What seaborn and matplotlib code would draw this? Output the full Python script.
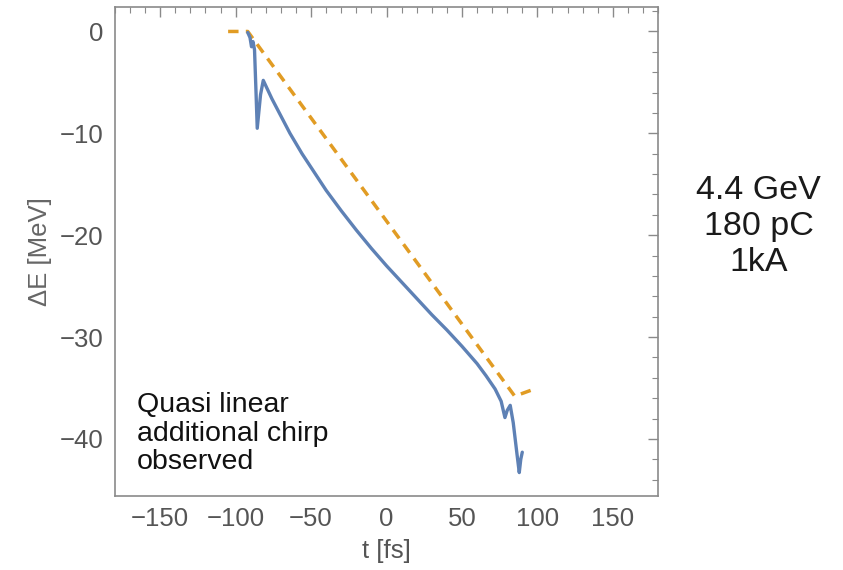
import matplotlib
matplotlib.use("Agg")
import matplotlib.pyplot as plt
import seaborn as sns
import pandas as pd
from matplotlib.ticker import MultipleLocator

# Measured energy deviation along the bunch
t_meas = [-92, -90.5, -89.5, -88.5, -87.5, -86.5, -85.7, -83.5, -81.7, -76, -70, -64,
          -56, -48, -40, -30, -20, -10, 0, 10, 20, 30, 40, 50, 60, 66, 72, 76,
          78.5, 80, 82, 84, 86.5, 88, 89, 90]
dE_meas = [-0.1, -0.6, -1.5, -1.0, -1.8, -6.0, -9.5, -6.2, -4.8, -6.6, -8.3, -10.0,
           -12.0, -13.8, -15.6, -17.6, -19.5, -21.3, -23.0, -24.6, -26.2, -27.8, -29.3,
           -30.9, -32.6, -33.8, -35.1, -36.3, -37.9, -37.2, -36.7, -38.4, -41.5, -43.3,
           -42.0, -41.3]

# Linear chirp reference
t_lin = [-105, -92, 85, 98]
dE_lin = [0.0, 0.0, -35.8, -35.1]

x_ticks = [-150, -100, -50, 0, 50, 100, 150]
y_ticks = [0, -10, -20, -30, -40]

sns.set_theme(style="white")
plt.rcParams["font.family"] = ["Liberation Sans", "DejaVu Sans"]
plt.rcParams["axes.unicode_minus"] = True

fig = plt.figure(figsize=(8.43, 5.70), dpi=100)
ax = fig.add_axes([0.1364, 0.1298, 0.6442, 0.8579])

df_meas = pd.DataFrame({"t": t_meas, "dE": dE_meas})
df_lin = pd.DataFrame({"t": t_lin, "dE": dE_lin})

sns.lineplot(data=df_lin, x="t", y="dE", ax=ax, color="#E19C24", lw=2.5,
             estimator=None, sort=False)
ax.lines[-1].set_dashes((3.0, 2.1))
sns.lineplot(data=df_meas, x="t", y="dE", ax=ax, color="#5E81B5", lw=2.4,
             estimator=None, sort=False)

ax.set_xlim(-180, 180)
ax.set_ylim(-45.6, 2.4)
ax.set_xticks(x_ticks)
ax.set_yticks(y_ticks)
ax.xaxis.set_minor_locator(MultipleLocator(10))
ax.yaxis.set_minor_locator(MultipleLocator(2))

frame_col = "#8a8a8a"
for s in ax.spines.values():
    s.set_color(frame_col)
    s.set_linewidth(1.2)
ax.tick_params(which="both", direction="in", top=True, right=True,
               color=frame_col, labelcolor="#555555")
ax.tick_params(which="major", length=7, width=1.0, labelsize=18.5, pad=8)
ax.tick_params(which="minor", length=4, width=0.8)

ax.set_xlabel("t [fs]", fontsize=18.5, color="#555555", labelpad=6)
ax.set_ylabel("ΔE [MeV]", fontsize=18.5, color="#666666", labelpad=6)

ax.text(-165.5, -35.4, "Quasi linear\nadditional chirp\nobserved", fontsize=20.5,
        color="#111111", ha="left", va="top", linespacing=1.13)

fig.text(0.900, 0.603, "4.4 GeV\n180 pC\n1kA", fontsize=24.5, color="#1a1a1a",
         ha="center", va="center", linespacing=1.21)

fig.savefig("out.png", dpi=100, facecolor="white")
